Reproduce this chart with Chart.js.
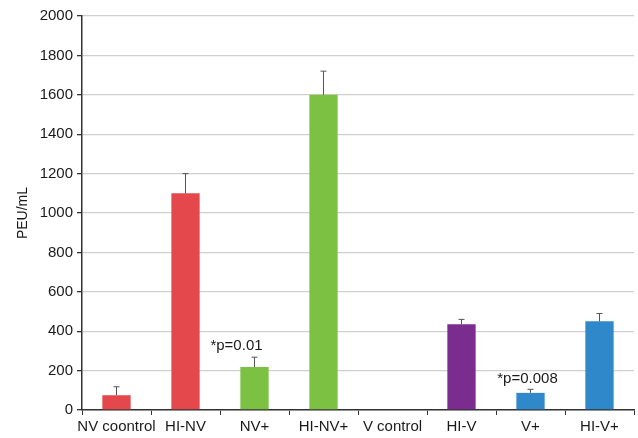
<!DOCTYPE html>
<html>
<head>
<meta charset="utf-8">
<script src="https://cdn.jsdelivr.net/npm/chart.js@4"></script>
<style>
html,body{margin:0;padding:0;background:#fff;}
#wrap{width:638px;height:438px;}
</style>
</head>
<body>
<div id="wrap"><canvas id="c" width="638" height="438"></canvas></div>
<script>
const labels=["NV coontrol","HI-NV","NV+","HI-NV+","V control","HI-V","V+","HI-V+"]
const values=[75,1100,218,1600,0,435,87,450]
const errTop=[118,1200,268,1720,0,460,105,490]
const colors=["#e5484c","#e5484c","#7cc142","#7cc142","#7b2d8f","#7b2d8f","#2f88c9","#2f88c9"]
const yTicks=[0,200,400,600,800,1000,1200,1400,1600,1800,2000]

// p-value notes: category index, value height, text
const noteIdx=[2,6]
const noteY=[325,160]
const noteText=["*p=0.01","*p=0.008"]

const FONT="'Liberation Sans', Arial, sans-serif"

const extras={
id:"extras",
afterDatasetsDraw(chart){
const ctx=chart.ctx
const x=chart.scales.x
const y=chart.scales.y
ctx.save()
ctx.strokeStyle="#555"
ctx.lineWidth=1
values.forEach((v,i)=>{
if(errTop[i]<=v) return
const px=x.getPixelForValue(i)
const y0=y.getPixelForValue(v)
const y1=y.getPixelForValue(errTop[i])
ctx.beginPath()
ctx.moveTo(px,y0)
ctx.lineTo(px,y1)
ctx.moveTo(px-3,y1)
ctx.lineTo(px+3,y1)
ctx.stroke()
})
ctx.fillStyle="#1a1a1a"
ctx.font="15px "+FONT
ctx.textAlign="center"
ctx.textBaseline="middle"
noteIdx.forEach((idx,i)=>{
const px=x.getPixelForValue(idx)+(i==1?-3:-18)
ctx.fillText(noteText[i],px,y.getPixelForValue(noteY[i]))
})
ctx.restore()
}
}

new Chart(document.getElementById("c"),{
type:"bar",
data:{
labels:labels,
datasets:[{
data:values,
backgroundColor:colors,
barPercentage:0.82,
categoryPercentage:0.5
}]
},
options:{
responsive:false,
animation:false,
layout:{padding:{top:16,right:4,left:0,bottom:0}},
plugins:{legend:{display:false},tooltip:{enabled:false}},
scales:{
x:{
grid:{drawOnChartArea:false,drawTicks:true,tickLength:5,tickColor:"#333"},
border:{color:"#333",width:1.5},
ticks:{color:"#1a1a1a",font:{family:FONT,size:15},maxRotation:0,autoSkip:false,padding:3},
afterFit:s=>{s.height=28}
},
y:{
min:0,max:2000,
afterBuildTicks:s=>{s.ticks=yTicks.map(v=>({value:v}))},
grid:{color:"#d0d0d0",lineWidth:1.3,tickLength:5,tickColor:"#333"},
border:{color:"#333",width:1.5},
ticks:{color:"#1a1a1a",font:{family:FONT,size:15},padding:4,callback:v=>String(v)},
title:{display:true,text:"PEU/mL",color:"#1a1a1a",font:{family:FONT,size:14},padding:{top:15,bottom:0}},
afterFit:s=>{s.width=82}
}
}
},
plugins:[extras]
})
</script>
</body>
</html>
